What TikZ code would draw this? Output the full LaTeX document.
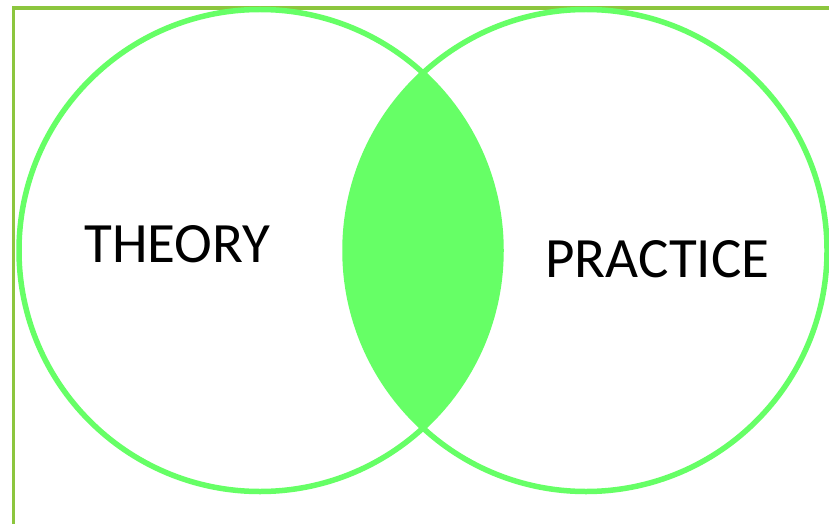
\documentclass[tikz,border=0pt]{standalone}
\usepackage{fontspec}
\setmainfont{Carlito}
\definecolor{frame}{HTML}{8CC63E}
\definecolor{venn}{HTML}{66FF66}
\tikzset{
  setcircle/.style={draw=venn, line width=5.5pt},
  label/.style={font=\fontsize{57}{57}\selectfont, text=black, inner sep=0pt, anchor=base}
}
\begin{document}
\begin{tikzpicture}[x=1pt,y=-1pt]
\useasboundingbox (0,0) rectangle (829,524);
\fill[white] (0,0) rectangle (829,524);
\begin{scope}
\clip (0,0) rectangle (829,524);
\draw[frame, line width=3.2pt] (13.5,8) rectangle (860,560);
\end{scope}
\coordinate (cL) at (260,250.5);
\coordinate (cR) at (586,250.5);
\begin{scope}
\clip (cL) circle [radius=241];
\fill[venn] (cR) circle [radius=241];
\end{scope}
\draw[setcircle] (cL) circle [radius=241];
\draw[setcircle] (cR) circle [radius=241];
\node[label] (theory) at (177.5,262) {THEORY};
\node[label] (practice) at (657.5,277) {PRACTICE};
\end{tikzpicture}
\end{document}
